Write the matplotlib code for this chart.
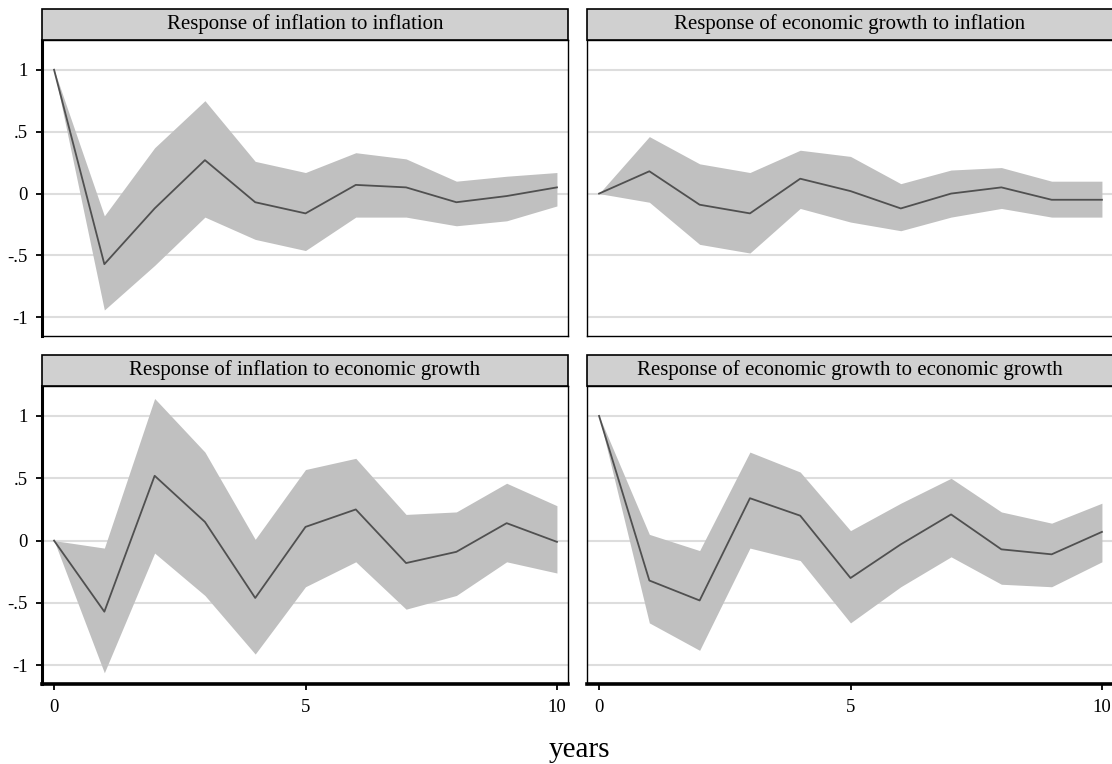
import matplotlib.pyplot as plt
from matplotlib.patches import Rectangle

plt.rcParams["font.family"] = ["Liberation Serif", "DejaVu Serif"]

steps = list(range(11))

# response of inflation to inflation
infl_infl = [1.0, -0.57, -0.12, 0.27, -0.07, -0.16, 0.07, 0.05, -0.07, -0.02, 0.05]
infl_infl_lo = [1.0, -0.94, -0.58, -0.19, -0.37, -0.46, -0.19, -0.19, -0.26, -0.22, -0.10]
infl_infl_hi = [1.0, -0.18, 0.37, 0.75, 0.26, 0.17, 0.33, 0.28, 0.10, 0.14, 0.17]

# response of economic growth to inflation
grow_infl = [0.0, 0.18, -0.09, -0.16, 0.12, 0.02, -0.12, 0.0, 0.05, -0.05, -0.05]
grow_infl_lo = [0.0, -0.07, -0.41, -0.48, -0.12, -0.23, -0.30, -0.19, -0.12, -0.19, -0.19]
grow_infl_hi = [0.0, 0.46, 0.24, 0.17, 0.35, 0.30, 0.08, 0.19, 0.21, 0.10, 0.10]

# response of inflation to economic growth
infl_grow = [0.0, -0.57, 0.52, 0.15, -0.46, 0.11, 0.25, -0.18, -0.09, 0.14, -0.01]
infl_grow_lo = [0.0, -1.06, -0.10, -0.44, -0.91, -0.37, -0.17, -0.55, -0.44, -0.17, -0.26]
infl_grow_hi = [0.0, -0.06, 1.14, 0.71, 0.01, 0.57, 0.66, 0.21, 0.23, 0.46, 0.28]

# response of economic growth to economic growth
grow_grow = [1.0, -0.32, -0.48, 0.34, 0.20, -0.30, -0.03, 0.21, -0.07, -0.11, 0.07]
grow_grow_lo = [1.0, -0.66, -0.88, -0.06, -0.16, -0.66, -0.37, -0.13, -0.35, -0.37, -0.17]
grow_grow_hi = [1.0, 0.05, -0.08, 0.71, 0.55, 0.08, 0.30, 0.50, 0.23, 0.14, 0.30]

titles = [
    "Response of inflation to inflation",
    "Response of economic growth to inflation",
    "Response of inflation to economic growth",
    "Response of economic growth to economic growth",
]
yticks = [-1, -0.5, 0, 0.5, 1]
ytick_labels = ["-1", "-.5", "0", ".5", "1"]
xticks = [0, 5, 10]

panels = [
    (infl_infl, infl_infl_lo, infl_infl_hi),
    (grow_infl, grow_infl_lo, grow_infl_hi),
    (infl_grow, infl_grow_lo, infl_grow_hi),
    (grow_grow, grow_grow_lo, grow_grow_hi),
]

W, H = 1112, 764
fig = plt.figure(figsize=(W / 100, H / 100), dpi=100)
fig.patch.set_facecolor("white")

# panel boxes in pixels: (left, top, right, bottom)
boxes = [
    (42, 40, 568, 336),
    (587, 40, 1113, 336),
    (42, 386, 568, 684),
    (587, 386, 1113, 684),
]
strip_h = 31

for i, (box, (irf, lo, hi)) in enumerate(zip(boxes, panels)):
    l, t, r, b = box
    ax = fig.add_axes([l / W, 1 - b / H, (r - l) / W, (b - t) / H])
    ax.fill_between(steps, lo, hi, color="#c0c0c0", lw=0, zorder=2)
    ax.plot(steps, irf, color="#505050", lw=1.3, zorder=3)

    ax.set_xlim(-0.24, 10.22)
    ax.set_ylim(-1.15, 1.24)
    ax.set_yticks(yticks)
    for y in yticks:
        ax.axhline(y, color="#dddddd", lw=1.5, zorder=1)

    for s in ax.spines.values():
        s.set_linewidth(1.0)
        s.set_color("black")

    left_col = i % 2 == 0
    bottom_row = i >= 2
    if left_col:
        ax.set_yticklabels(ytick_labels, fontsize=13.5)
        ax.spines["left"].set_linewidth(2.2)
        ax.tick_params(axis="y", direction="out", length=4, width=1.3, pad=6)
    else:
        ax.tick_params(axis="y", left=False, labelleft=False)
    if bottom_row:
        ax.set_xticks(xticks)
        ax.set_xticklabels([str(x) for x in xticks], fontsize=13.5)
        ax.spines["bottom"].set_linewidth(2.6)
        ax.tick_params(axis="x", direction="out", length=4, width=1.3, pad=7)
    else:
        ax.tick_params(axis="x", bottom=False, labelbottom=False)

    # title strip
    sh = strip_h / (b - t)
    ax.add_patch(Rectangle((0, 1), 1, sh, transform=ax.transAxes, clip_on=False,
                           facecolor="#d0d0d0", edgecolor="black", lw=1.2, zorder=5))
    ax.text(0.5, 1 + sh / 2, titles[i], transform=ax.transAxes, ha="center", va="center",
            fontsize=15, zorder=6)

fig.text(579 / W, 1 - 757 / H, "years", ha="center", va="baseline", fontsize=21)

fig.savefig("out.png", dpi=100, facecolor="white")
